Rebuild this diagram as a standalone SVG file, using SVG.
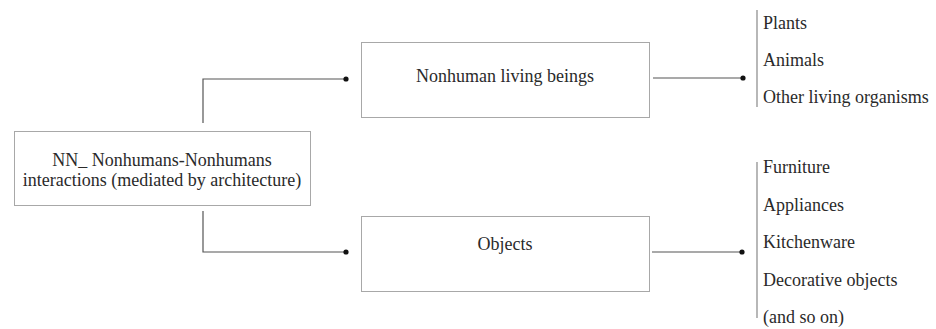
<svg xmlns="http://www.w3.org/2000/svg" width="936" height="329" viewBox="0 0 936 329">
<style>
.box{fill:#fff;stroke:#a8a8a8;stroke-width:1}
text{font-family:'Liberation Serif','Times New Roman','DejaVu Serif',serif;font-size:18px;fill:#2a2a2a}
.c{text-anchor:middle}
.ln{fill:none;stroke:#555;stroke-width:1.2}
.bar{stroke:#888;stroke-width:1.2}
.dot{fill:#111}
</style>
<rect width="936" height="329" fill="#fff"/>
<g id="connectors">
<polyline class="ln" points="203,123 203,79 346,79"/>
<circle class="dot" cx="346" cy="79" r="2.6"/>
<polyline class="ln" points="203,211 203,252 346,252"/>
<circle class="dot" cx="346" cy="252" r="2.6"/>
<line class="ln" x1="653" y1="78" x2="743" y2="78"/>
<circle class="dot" cx="743" cy="78" r="2.6"/>
<line class="ln" x1="652" y1="252" x2="742" y2="252"/>
<circle class="dot" cx="742" cy="252" r="2.6"/>
</g>
<g id="nn" font-family="'Liberation Serif', serif">
<rect class="box" x="14.5" y="131.5" width="296" height="74"/>
<text class="c" x="162" y="166">NN_ Nonhumans-Nonhumans</text>
<text class="c" x="162" y="186">interactions (mediated by architecture)</text>
</g>
<g id="living">
<rect class="box" x="361.5" y="42.5" width="288" height="75"/>
<text class="c" x="505" y="82">Nonhuman living beings</text>
</g>
<g id="objects">
<rect class="box" x="361.5" y="216.5" width="288" height="75"/>
<text class="c" x="505" y="250">Objects</text>
</g>
<g id="living-list">
<line class="bar" x1="757" y1="10" x2="757" y2="107"/>
<text x="763" y="29">Plants</text>
<text x="763" y="66">Animals</text>
<text x="763" y="103">Other living organisms</text>
</g>
<g id="objects-list">
<line class="bar" x1="757" y1="162" x2="757" y2="318"/>
<text x="763" y="173">Furniture</text>
<text x="763" y="211">Appliances</text>
<text x="763" y="248">Kitchenware</text>
<text x="763" y="286">Decorative objects</text>
<text x="763" y="323">(and so on)</text>
</g>
</svg>
